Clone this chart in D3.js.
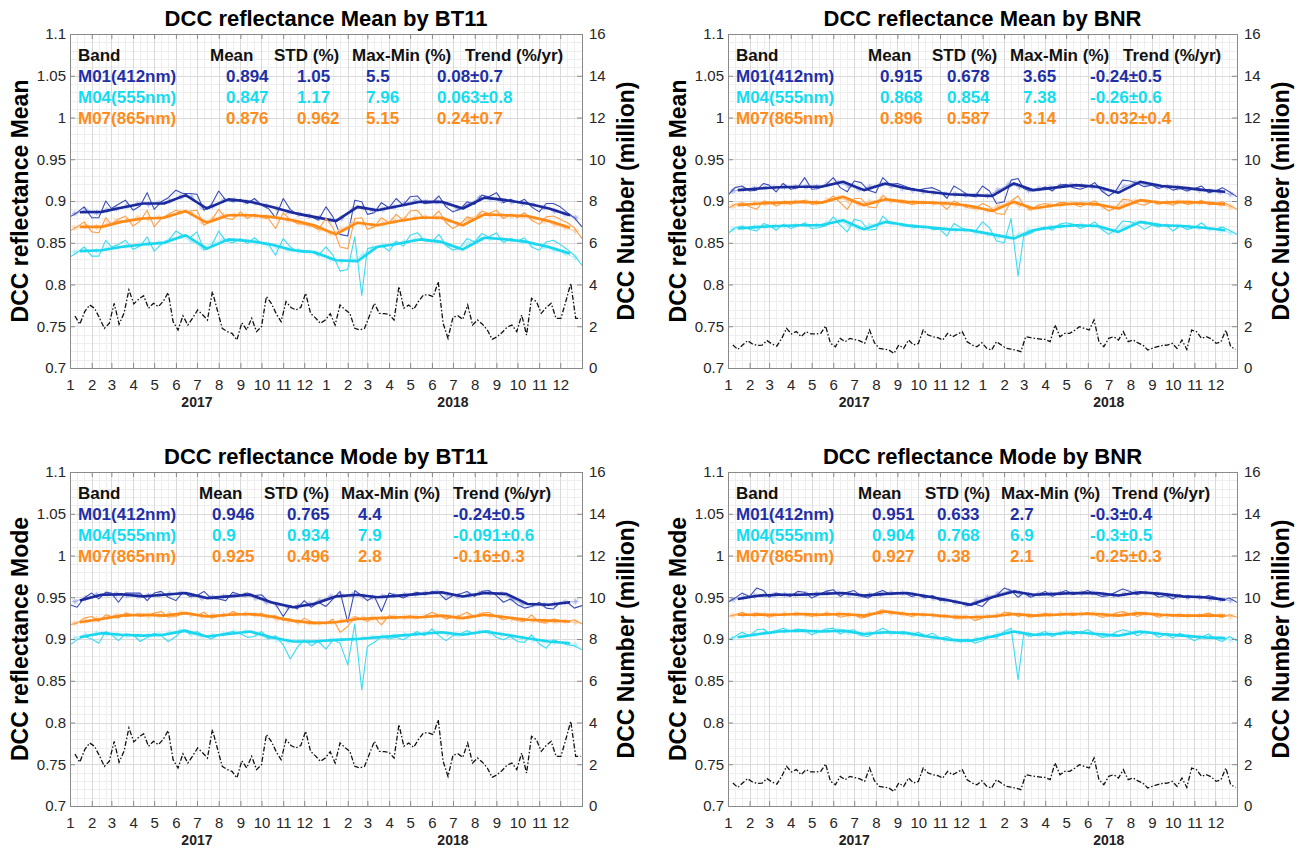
<!DOCTYPE html>
<html>
<head>
<meta charset="utf-8">
<script src="https://cdn.jsdelivr.net/npm/d3@7/dist/d3.min.js"></script>
<style>
  body { margin: 0; background: #fff; }
  svg { display: block; }
</style>
</head>
<body>
<svg id="chart" width="1299" height="848"></svg>
<script>
const monthLabels = ['1', '2', '3', '4', '5', '6', '7', '8', '9', '10', '11', '12'];
const years = [2017, 2018];
const bands = ['M01(412nm)', 'M04(555nm)', 'M07(865nm)'];
const tableHeader = ['Band', 'Mean', 'STD (%)', 'Max-Min (%)', 'Trend (%/yr)'];
const titles = ['DCC reflectance Mean by BT11', 'DCC reflectance Mean by BNR',
                'DCC reflectance Mode by BT11', 'DCC reflectance Mode by BNR'];
const leftLabels = ['DCC reflectance Mean', 'DCC reflectance Mean', 'DCC reflectance Mode', 'DCC reflectance Mode'];
const rightLabel = 'DCC Number (million)';
const yTicks = [0.7, 0.75, 0.8, 0.85, 0.9, 0.95, 1, 1.05, 1.1];
const y2Ticks = [0, 2, 4, 6, 8, 10, 12, 14, 16];

// table values, rows M01 / M04 / M07: mean, std, max-min, trend
const statsBt11Mean = [['0.894', '1.05', '5.5', '0.08±0.7'], ['0.847', '1.17', '7.96', '0.063±0.8'], ['0.876', '0.962', '5.15', '0.24±0.7']];
const statsBnrMean = [['0.915', '0.678', '3.65', '-0.24±0.5'], ['0.868', '0.854', '7.38', '-0.26±0.6'], ['0.896', '0.587', '3.14', '-0.032±0.4']];
const statsBt11Mode = [['0.946', '0.765', '4.4', '-0.24±0.5'], ['0.9', '0.934', '7.9', '-0.091±0.6'], ['0.925', '0.496', '2.8', '-0.16±0.3']];
const statsBnrMode = [['0.951', '0.633', '2.7', '-0.3±0.4'], ['0.904', '0.768', '6.9', '-0.3±0.5'], ['0.927', '0.38', '2.1', '-0.25±0.3']];

// raw series: 1st, 11th, 21st of each month, Jan 2017 .. Jan 2019
const bt11MeanM01Raw = [0.881,0.886,0.893,0.880,0.880,0.900,0.891,0.896,0.901,0.889,0.894,0.910,
  0.890,0.899,0.904,0.913,0.909,0.909,0.908,0.889,0.895,0.912,0.901,0.899,
  0.902,0.897,0.903,0.895,0.891,0.880,0.903,0.890,0.884,0.882,0.881,0.877,
  0.893,0.881,0.860,0.858,0.901,0.899,0.884,0.886,0.898,0.892,0.903,0.895,
  0.905,0.906,0.897,0.898,0.906,0.893,0.887,0.890,0.899,0.896,0.907,0.905,
  0.910,0.898,0.902,0.898,0.902,0.893,0.887,0.897,0.897,0.893,0.886,0.880,0.869];
const bt11MeanM04Raw = [0.833,0.838,0.845,0.834,0.834,0.853,0.845,0.848,0.853,0.842,0.846,0.857,
  0.840,0.848,0.852,0.864,0.859,0.856,0.863,0.841,0.845,0.864,0.852,0.850,
  0.855,0.849,0.856,0.849,0.848,0.835,0.855,0.845,0.840,0.838,0.839,0.835,
  0.845,0.835,0.816,0.818,0.857,0.787,0.843,0.845,0.847,0.840,0.852,0.846,
  0.859,0.862,0.853,0.851,0.860,0.847,0.841,0.844,0.855,0.851,0.861,0.857,
  0.862,0.850,0.855,0.852,0.856,0.845,0.841,0.851,0.853,0.848,0.842,0.835,0.823];
const bt11MeanM07Raw = [0.864,0.869,0.875,0.863,0.862,0.880,0.872,0.878,0.882,0.870,0.876,0.889,
  0.869,0.879,0.884,0.889,0.886,0.888,0.889,0.871,0.876,0.890,0.879,0.878,
  0.887,0.879,0.884,0.880,0.879,0.867,0.886,0.877,0.873,0.872,0.870,0.866,
  0.879,0.868,0.845,0.843,0.879,0.880,0.866,0.869,0.880,0.874,0.884,0.877,
  0.888,0.889,0.879,0.880,0.888,0.874,0.867,0.872,0.881,0.878,0.888,0.885,
  0.889,0.879,0.884,0.880,0.886,0.877,0.872,0.881,0.882,0.878,0.874,0.868,0.855];

const bnrMeanM01Raw = [0.907,0.916,0.918,0.912,0.913,0.921,0.919,0.911,0.921,0.914,0.916,0.928,
  0.914,0.915,0.919,0.928,0.916,0.911,0.924,0.922,0.913,0.910,0.928,0.920,
  0.921,0.918,0.915,0.913,0.915,0.916,0.912,0.903,0.918,0.913,0.907,0.905,
  0.918,0.912,0.897,0.899,0.925,0.927,0.915,0.912,0.913,0.917,0.912,0.919,
  0.920,0.916,0.914,0.917,0.922,0.912,0.906,0.912,0.925,0.924,0.921,0.917,
  0.919,0.915,0.918,0.913,0.915,0.912,0.915,0.918,0.910,0.912,0.916,0.911,0.905];
const bnrMeanM04Raw = [0.861,0.868,0.870,0.866,0.864,0.873,0.871,0.865,0.872,0.867,0.870,0.874,
  0.867,0.868,0.870,0.881,0.871,0.863,0.878,0.876,0.865,0.866,0.882,0.874,
  0.873,0.870,0.869,0.868,0.870,0.866,0.866,0.858,0.873,0.868,0.865,0.863,
  0.875,0.868,0.852,0.850,0.879,0.810,0.858,0.861,0.866,0.869,0.865,0.872,
  0.874,0.872,0.867,0.870,0.875,0.866,0.860,0.866,0.876,0.875,0.872,0.866,
  0.871,0.869,0.872,0.864,0.870,0.866,0.868,0.874,0.867,0.866,0.869,0.865,0.860];
const bnrMeanM07Raw = [0.891,0.896,0.898,0.893,0.890,0.900,0.899,0.894,0.898,0.896,0.899,0.901,
  0.896,0.897,0.899,0.906,0.898,0.890,0.903,0.903,0.893,0.892,0.907,0.900,
  0.899,0.898,0.896,0.897,0.898,0.899,0.897,0.890,0.900,0.896,0.892,0.891,
  0.897,0.893,0.885,0.884,0.900,0.906,0.895,0.889,0.895,0.897,0.894,0.898,
  0.898,0.896,0.893,0.897,0.900,0.894,0.888,0.892,0.902,0.901,0.897,0.895,
  0.899,0.896,0.898,0.895,0.899,0.896,0.897,0.901,0.896,0.896,0.899,0.895,0.890];

const bt11ModeM01Raw = [0.941,0.938,0.949,0.955,0.948,0.956,0.955,0.944,0.955,0.955,0.955,0.946,
  0.955,0.957,0.950,0.946,0.956,0.951,0.952,0.957,0.949,0.948,0.946,0.956,
  0.953,0.955,0.952,0.953,0.945,0.942,0.927,0.940,0.936,0.946,0.938,0.944,
  0.939,0.948,0.957,0.920,0.958,0.952,0.946,0.951,0.933,0.955,0.952,0.949,
  0.953,0.956,0.953,0.957,0.955,0.947,0.952,0.954,0.957,0.951,0.957,0.958,
  0.952,0.944,0.948,0.941,0.937,0.939,0.944,0.937,0.936,0.944,0.944,0.937,0.940];
const bt11ModeM04Raw = [0.893,0.899,0.903,0.900,0.895,0.909,0.905,0.898,0.906,0.905,0.897,0.902,
  0.907,0.904,0.897,0.903,0.911,0.906,0.909,0.904,0.900,0.905,0.907,0.909,
  0.906,0.902,0.903,0.909,0.900,0.904,0.893,0.876,0.890,0.899,0.892,0.897,
  0.888,0.899,0.895,0.869,0.918,0.839,0.891,0.896,0.903,0.900,0.902,0.899,
  0.904,0.909,0.904,0.912,0.904,0.898,0.904,0.906,0.910,0.906,0.909,0.910,
  0.902,0.899,0.903,0.897,0.896,0.905,0.894,0.889,0.899,0.896,0.893,0.892,0.887];
const bt11ModeM07Raw = [0.917,0.919,0.925,0.927,0.921,0.929,0.927,0.925,0.931,0.929,0.927,0.928,
  0.931,0.933,0.926,0.927,0.931,0.930,0.928,0.932,0.925,0.927,0.928,0.933,
  0.929,0.930,0.928,0.931,0.926,0.928,0.922,0.924,0.919,0.925,0.921,0.920,
  0.918,0.924,0.908,0.915,0.927,0.924,0.921,0.926,0.917,0.928,0.925,0.926,
  0.928,0.925,0.927,0.932,0.928,0.924,0.926,0.928,0.932,0.926,0.931,0.932,
  0.927,0.923,0.925,0.922,0.921,0.929,0.920,0.919,0.924,0.922,0.921,0.923,0.918];

const bnrModeM01Raw = [0.944,0.949,0.955,0.951,0.961,0.958,0.950,0.955,0.953,0.951,0.957,0.956,
  0.949,0.953,0.957,0.959,0.951,0.956,0.958,0.951,0.949,0.955,0.958,0.954,
  0.956,0.955,0.951,0.953,0.949,0.952,0.946,0.947,0.944,0.943,0.940,0.942,
  0.939,0.948,0.952,0.961,0.958,0.950,0.955,0.950,0.953,0.957,0.951,0.955,
  0.958,0.953,0.955,0.958,0.954,0.951,0.952,0.956,0.960,0.957,0.953,0.956,
  0.955,0.950,0.952,0.948,0.953,0.949,0.951,0.949,0.952,0.950,0.946,0.949,0.944];
const bnrModeM04Raw = [0.899,0.903,0.908,0.904,0.911,0.912,0.906,0.910,0.913,0.909,0.912,0.911,
  0.905,0.909,0.912,0.913,0.906,0.910,0.911,0.904,0.903,0.909,0.913,0.909,
  0.908,0.909,0.905,0.908,0.904,0.907,0.901,0.903,0.899,0.896,0.900,0.895,
  0.898,0.903,0.901,0.909,0.913,0.851,0.906,0.903,0.906,0.909,0.903,0.907,
  0.910,0.905,0.908,0.911,0.906,0.902,0.903,0.908,0.911,0.909,0.904,0.908,
  0.907,0.902,0.906,0.901,0.907,0.903,0.898,0.902,0.906,0.900,0.897,0.903,0.898];
const bnrModeM07Raw = [0.927,0.929,0.932,0.928,0.931,0.930,0.926,0.929,0.929,0.930,0.931,0.929,
  0.927,0.929,0.931,0.930,0.926,0.928,0.929,0.925,0.927,0.932,0.935,0.931,
  0.930,0.929,0.927,0.930,0.928,0.930,0.926,0.928,0.925,0.924,0.927,0.922,
  0.925,0.928,0.926,0.932,0.931,0.927,0.929,0.926,0.928,0.931,0.928,0.930,
  0.931,0.928,0.930,0.932,0.929,0.926,0.927,0.931,0.933,0.930,0.927,0.930,
  0.929,0.926,0.929,0.927,0.930,0.928,0.927,0.929,0.931,0.928,0.926,0.929,0.926];

// light smoothed line with star markers: 8th and 23rd of each month
const bt11MeanM01Mid = [0.885,0.889,0.886,0.889,0.891,0.894,0.897,0.896,0.898,0.900,0.905,0.905,0.893,0.894,0.901,0.901,0.899,0.898,0.894,0.891,0.887,0.884,0.882,0.880,
  0.877,0.879,0.890,0.892,0.889,0.890,0.893,0.897,0.900,0.899,0.899,0.896,0.891,0.896,0.904,0.903,0.900,0.899,0.897,0.895,0.892,0.888,0.884,0.880];
const bt11MeanM04Mid = [0.839,0.841,0.840,0.843,0.845,0.847,0.848,0.849,0.850,0.854,0.858,0.852,0.844,0.849,0.854,0.853,0.852,0.850,0.848,0.845,0.841,0.840,0.839,0.835,
  0.830,0.828,0.829,0.836,0.844,0.847,0.849,0.851,0.854,0.853,0.851,0.847,0.843,0.849,0.856,0.855,0.854,0.853,0.851,0.848,0.845,0.841,0.837,0.832];
const bt11MeanM07Mid = [0.868,0.870,0.869,0.872,0.876,0.877,0.880,0.879,0.880,0.883,0.887,0.885,0.875,0.878,0.883,0.883,0.883,0.882,0.881,0.880,0.877,0.874,0.871,0.866,
  0.861,0.866,0.873,0.873,0.871,0.873,0.876,0.878,0.880,0.881,0.880,0.876,0.872,0.878,0.884,0.883,0.883,0.882,0.882,0.879,0.876,0.872,0.868,0.864];
const bnrMeanM01Mid = [0.912,0.914,0.915,0.916,0.916,0.917,0.917,0.917,0.917,0.920,0.922,0.918,0.914,0.917,0.920,0.918,0.915,0.913,0.911,0.910,0.908,0.908,0.907,0.907,
  0.906,0.913,0.920,0.917,0.913,0.915,0.916,0.918,0.919,0.918,0.917,0.913,0.911,0.917,0.922,0.920,0.918,0.917,0.916,0.914,0.913,0.912,0.911,0.908];
const bnrMeanM04Mid = [0.866,0.868,0.869,0.869,0.870,0.870,0.871,0.871,0.871,0.874,0.876,0.871,0.867,0.871,0.874,0.873,0.871,0.869,0.868,0.867,0.866,0.865,0.865,0.862,
  0.860,0.857,0.856,0.860,0.865,0.867,0.869,0.870,0.871,0.871,0.870,0.866,0.864,0.869,0.874,0.873,0.871,0.870,0.870,0.869,0.868,0.866,0.865,0.862];
const bnrMeanM07Mid = [0.894,0.896,0.897,0.897,0.898,0.898,0.899,0.899,0.898,0.901,0.904,0.900,0.896,0.899,0.902,0.900,0.899,0.898,0.898,0.897,0.897,0.895,0.894,0.891,
  0.889,0.894,0.898,0.895,0.892,0.893,0.895,0.896,0.897,0.897,0.896,0.893,0.892,0.896,0.900,0.899,0.898,0.898,0.899,0.898,0.898,0.897,0.896,0.893];
const bt11ModeM01Mid = [0.945,0.949,0.953,0.954,0.954,0.952,0.951,0.952,0.953,0.954,0.955,0.952,0.949,0.950,0.951,0.952,0.953,0.949,0.944,0.941,0.938,0.940,0.942,0.946,
  0.951,0.952,0.953,0.951,0.950,0.951,0.952,0.953,0.954,0.955,0.956,0.953,0.951,0.953,0.955,0.955,0.954,0.948,0.942,0.941,0.941,0.942,0.944,0.945];
const bt11ModeM04Mid = [0.901,0.905,0.907,0.906,0.905,0.904,0.904,0.904,0.905,0.908,0.910,0.906,0.903,0.904,0.906,0.908,0.909,0.906,0.902,0.899,0.897,0.897,0.897,0.898,
  0.899,0.899,0.900,0.901,0.902,0.903,0.904,0.905,0.906,0.907,0.908,0.906,0.905,0.907,0.909,0.907,0.905,0.903,0.901,0.899,0.897,0.896,0.895,0.893];
const bt11ModeM07Mid = [0.919,0.922,0.924,0.926,0.928,0.929,0.929,0.928,0.928,0.930,0.931,0.929,0.927,0.928,0.929,0.930,0.930,0.929,0.927,0.924,0.922,0.920,0.919,0.919,
  0.920,0.922,0.924,0.925,0.925,0.925,0.926,0.926,0.926,0.927,0.928,0.926,0.925,0.927,0.929,0.927,0.926,0.924,0.923,0.922,0.922,0.921,0.921,0.920];
const bnrModeM01Mid = [0.947,0.950,0.952,0.953,0.953,0.953,0.953,0.954,0.954,0.955,0.955,0.953,0.952,0.953,0.954,0.955,0.955,0.953,0.951,0.949,0.946,0.944,0.941,0.945,
  0.950,0.954,0.957,0.955,0.953,0.954,0.954,0.955,0.955,0.955,0.955,0.953,0.952,0.954,0.956,0.955,0.954,0.952,0.951,0.950,0.950,0.948,0.947,0.946];
const bnrModeM04Mid = [0.901,0.904,0.906,0.908,0.909,0.910,0.910,0.909,0.909,0.910,0.910,0.908,0.906,0.907,0.908,0.907,0.907,0.905,0.903,0.901,0.899,0.898,0.898,0.900,
  0.903,0.906,0.909,0.907,0.905,0.905,0.906,0.907,0.908,0.907,0.906,0.905,0.904,0.906,0.909,0.907,0.906,0.905,0.904,0.903,0.902,0.901,0.901,0.899];
const bnrModeM07Mid = [0.928,0.929,0.929,0.929,0.929,0.930,0.930,0.929,0.929,0.930,0.930,0.929,0.928,0.930,0.932,0.931,0.930,0.929,0.929,0.928,0.927,0.926,0.926,0.926,
  0.927,0.929,0.930,0.929,0.928,0.929,0.929,0.930,0.930,0.930,0.930,0.929,0.928,0.930,0.931,0.930,0.929,0.928,0.928,0.928,0.928,0.928,0.928,0.927];

// thick smoothed line: 15th of each month
const bt11MeanM01Smooth = [0.8865,0.887,0.892,0.897,0.897,0.907,0.891,0.902,0.899,0.893,0.886,0.881,0.876,0.893,0.889,0.894,0.899,0.899,0.891,0.904,0.901,0.897,0.891,0.883];
const bt11MeanM04Smooth = [0.840,0.841,0.845,0.848,0.850,0.859,0.843,0.854,0.852,0.848,0.841,0.839,0.829,0.828,0.845,0.849,0.854,0.851,0.842,0.856,0.854,0.851,0.845,0.837];
const bt11MeanM07Smooth = [0.869,0.869,0.875,0.879,0.880,0.888,0.874,0.883,0.883,0.881,0.877,0.871,0.860,0.874,0.871,0.876,0.880,0.880,0.871,0.884,0.883,0.882,0.876,0.868];
const bnrMeanM01Smooth = [0.913,0.915,0.9165,0.917,0.917,0.923,0.913,0.921,0.915,0.911,0.908,0.907,0.906,0.921,0.913,0.916,0.919,0.917,0.910,0.923,0.918,0.916,0.913,0.911];
const bnrMeanM04Smooth = [0.867,0.869,0.870,0.871,0.871,0.877,0.866,0.875,0.871,0.8685,0.866,0.865,0.860,0.855,0.865,0.869,0.871,0.870,0.863,0.875,0.871,0.870,0.868,0.865];
const bnrMeanM07Smooth = [0.895,0.897,0.898,0.899,0.898,0.905,0.895,0.902,0.899,0.898,0.897,0.894,0.888,0.899,0.891,0.895,0.897,0.896,0.891,0.901,0.898,0.899,0.898,0.896];
const bt11ModeM01Smooth = [0.946,0.953,0.9535,0.951,0.953,0.955,0.949,0.951,0.953,0.944,0.938,0.942,0.951,0.953,0.950,0.952,0.954,0.956,0.951,0.955,0.954,0.942,0.941,0.944];
const bt11ModeM04Smooth = [0.902,0.907,0.905,0.904,0.905,0.910,0.903,0.906,0.909,0.902,0.897,0.897,0.899,0.900,0.902,0.904,0.906,0.908,0.905,0.909,0.905,0.901,0.897,0.895];
const bt11ModeM07Smooth = [0.920,0.924,0.928,0.929,0.928,0.931,0.927,0.929,0.930,0.927,0.922,0.919,0.920,0.924,0.925,0.926,0.926,0.928,0.925,0.929,0.926,0.923,0.922,0.921];
const bnrModeM01Smooth = [0.948,0.952,0.953,0.953,0.954,0.955,0.952,0.954,0.955,0.951,0.946,0.941,0.950,0.957,0.953,0.954,0.955,0.955,0.952,0.956,0.954,0.951,0.950,0.947];
const bnrModeM04Smooth = [0.902,0.906,0.909,0.910,0.909,0.910,0.906,0.908,0.907,0.903,0.899,0.898,0.903,0.909,0.905,0.906,0.908,0.906,0.904,0.909,0.906,0.904,0.902,0.901];
const bnrModeM07Smooth = [0.929,0.929,0.929,0.930,0.929,0.930,0.928,0.933,0.930,0.929,0.927,0.926,0.927,0.930,0.928,0.929,0.930,0.930,0.928,0.931,0.929,0.928,0.928,0.928];

// weekly DCC counts (million), from 8 Jan 2017
const dccBt11 = [2.49,2.10,2.70,3.02,2.86,2.40,1.90,2.14,3.10,2.10,2.62,3.74,
  3.07,3.30,3.46,2.86,3.10,2.94,3.20,3.61,2.22,1.82,2.50,2.06,
  2.40,2.78,2.55,2.30,3.66,2.78,1.90,1.75,1.66,1.34,2.17,1.82,
  2.38,1.74,1.98,3.42,3.10,2.60,2.22,3.18,2.90,2.78,2.90,3.58,
  2.62,2.40,2.14,2.30,2.60,2.06,3.02,2.80,2.62,1.90,1.82,1.90,
  2.50,3.10,2.62,2.60,2.57,2.30,3.90,2.86,3.02,2.81,3.20,3.50,
  3.50,3.42,4.13,2.14,1.42,2.43,2.50,2.33,3.02,2.06,2.30,2.10,
  1.82,1.37,1.50,1.70,1.95,2.06,1.74,2.54,1.58,3.34,3.18,2.62,
  2.90,3.10,2.38,2.38,3.20,4.06,2.38,2.38];
const dccBnr = [1.10,0.89,1.10,1.31,1.15,1.08,1.10,1.31,1.15,1.05,1.42,1.90,
  1.63,1.75,1.50,1.74,1.63,1.63,1.66,2.01,1.18,1.02,1.42,1.26,
  1.42,1.36,1.30,1.18,1.82,1.21,0.94,0.90,0.86,0.70,1.10,0.94,
  1.34,1.10,1.18,1.82,1.58,1.50,1.45,1.34,1.66,1.50,1.62,1.74,
  1.26,1.10,1.02,1.21,0.95,0.86,1.26,1.10,0.94,0.90,0.86,0.78,
  1.50,1.45,1.42,1.38,1.37,1.26,2.06,1.50,1.66,1.66,1.80,1.98,
  1.90,1.82,2.30,1.26,1.02,1.42,1.50,1.34,1.74,1.26,1.34,1.20,
  1.10,0.86,0.95,1.02,1.08,1.10,1.18,0.94,1.34,0.89,1.82,1.74,
  1.42,1.50,1.40,1.18,1.26,1.82,1.02,0.89];

// sample dates for each kind of series
const rawDates = d3.range(73).map(i => new Date(2017, Math.floor(i / 3), 1 + 10 * (i % 3)));
const midDates = d3.range(48).map(i => new Date(2017, Math.floor(i / 2), i % 2 ? 23 : 8));
const smoothDates = d3.range(24).map(k => new Date(2017, k, 15));
const dccDates = d3.range(104).map(i => new Date(2017, 0, 8 + 7 * i));
const monthTicks = d3.range(24).map(k => new Date(2017, k, 1));
const minorDays = d3.range(24).flatMap(k => [new Date(2017, k, 11), new Date(2017, k, 21)]);
const minorY = d3.range(70, 111).filter(v => v % 5).map(v => v / 100);
const xDomain = [new Date(2017, 0, 1), new Date(2019, 0, 1)];

const font = '"Liberation Sans", Arial, Helvetica, sans-serif';
const bandStyle = [
  {thick: '#1b2a9c', raw: '#3b4db8', mid: '#a5b0ea', text: '#1f2fa6'},
  {thick: '#1ad6ee', raw: '#3adcf3', mid: '#a8eef9', text: '#12dcef'},
  {thick: '#ff8a17', raw: '#ff9e45', mid: '#ffc994', text: '#ff8c1a'}
];

const panels = [
  {title: titles[0], yLabel: leftLabels[0], stats: statsBt11Mean, dcc: dccBt11,
   raw: [bt11MeanM01Raw, bt11MeanM04Raw, bt11MeanM07Raw],
   mid: [bt11MeanM01Mid, bt11MeanM04Mid, bt11MeanM07Mid],
   smooth: [bt11MeanM01Smooth, bt11MeanM04Smooth, bt11MeanM07Smooth],
   box: {x0: 70, x1: 582, y0: 34, y1: 368},
   cols: {band: 78, head: [210, 274, 352, 465], val: [226, 297, 366, 437]}},
  {title: titles[1], yLabel: leftLabels[1], stats: statsBnrMean, dcc: dccBnr,
   raw: [bnrMeanM01Raw, bnrMeanM04Raw, bnrMeanM07Raw],
   mid: [bnrMeanM01Mid, bnrMeanM04Mid, bnrMeanM07Mid],
   smooth: [bnrMeanM01Smooth, bnrMeanM04Smooth, bnrMeanM07Smooth],
   box: {x0: 728, x1: 1237, y0: 34, y1: 368},
   cols: {band: 736, head: [868, 932, 1010, 1123], val: [880, 947, 1023, 1090]}},
  {title: titles[2], yLabel: leftLabels[2], stats: statsBt11Mode, dcc: dccBt11,
   raw: [bt11ModeM01Raw, bt11ModeM04Raw, bt11ModeM07Raw],
   mid: [bt11ModeM01Mid, bt11ModeM04Mid, bt11ModeM07Mid],
   smooth: [bt11ModeM01Smooth, bt11ModeM04Smooth, bt11ModeM07Smooth],
   box: {x0: 70, x1: 582, y0: 472, y1: 806},
   cols: {band: 78, head: [199, 264, 341, 453], val: [212, 287, 358, 453]}},
  {title: titles[3], yLabel: leftLabels[3], stats: statsBnrMode, dcc: dccBnr,
   raw: [bnrModeM01Raw, bnrModeM04Raw, bnrModeM07Raw],
   mid: [bnrModeM01Mid, bnrModeM04Mid, bnrModeM07Mid],
   smooth: [bnrModeM01Smooth, bnrModeM04Smooth, bnrModeM07Smooth],
   box: {x0: 728, x1: 1237, y0: 472, y1: 806},
   cols: {band: 736, head: [858, 925, 1001, 1112], val: [872, 937, 1010, 1090]}}
];

const svg = d3.select('#chart');
const defs = svg.append('defs');
const crisp = v => Math.round(v) + 0.5;

// pair values with their dates
function pts(dates, values) {
  return values.map((v, i) => [dates[i], v]).filter(d => d[0] !== undefined);
}

function star(cx, cy, r) {
  const q = r * 0.7;
  return `M${cx - r},${cy}H${cx + r}M${cx},${cy - r}V${cy + r}` +
    `M${cx - q},${cy - q}L${cx + q},${cy + q}M${cx - q},${cy + q}L${cx + q},${cy - q}`;
}

function drawPanel(p, idx) {
  const b = p.box;
  const x = d3.scaleTime().domain(xDomain).range([b.x0, b.x1]);
  const y = d3.scaleLinear().domain([0.7, 1.1]).range([b.y1, b.y0]);
  const y2 = d3.scaleLinear().domain([0, 16]).range([b.y1, b.y0]);
  const g = svg.append('g');

  // grid: minor first, then major
  const grid = g.append('g').attr('shape-rendering', 'crispEdges');
  grid.selectAll('line.mx').data(minorDays).join('line').attr('class', 'mx')
    .attr('x1', d => crisp(x(d))).attr('x2', d => crisp(x(d)))
    .attr('y1', b.y0).attr('y2', b.y1).attr('stroke', '#eeeeee');
  grid.selectAll('line.my').data(minorY).join('line').attr('class', 'my')
    .attr('y1', d => crisp(y(d))).attr('y2', d => crisp(y(d)))
    .attr('x1', b.x0).attr('x2', b.x1).attr('stroke', '#eeeeee');
  grid.selectAll('line.gx').data(monthTicks.slice(1)).join('line').attr('class', 'gx')
    .attr('x1', d => crisp(x(d))).attr('x2', d => crisp(x(d)))
    .attr('y1', b.y0).attr('y2', b.y1).attr('stroke', '#dadada');
  grid.selectAll('line.gy').data(yTicks.slice(1, -1)).join('line').attr('class', 'gy')
    .attr('y1', d => crisp(y(d))).attr('y2', d => crisp(y(d)))
    .attr('x1', b.x0).attr('x2', b.x1).attr('stroke', '#dadada');

  defs.append('clipPath').attr('id', 'clip' + idx)
    .append('rect').attr('x', b.x0).attr('y', b.y0)
    .attr('width', b.x1 - b.x0).attr('height', b.y1 - b.y0);
  const plot = g.append('g').attr('clip-path', `url(#clip${idx})`);

  const line = d3.line().x(d => x(d[0])).y(d => y(d[1]));
  bands.forEach((name, j) => {
    const st = bandStyle[j];
    const midPts = pts(midDates, p.mid[j]);
    plot.append('path').attr('d', line(midPts))
      .attr('fill', 'none').attr('stroke', st.mid).attr('stroke-width', 1);
    plot.append('path')
      .attr('d', midPts.map(d => star(x(d[0]), y(d[1]), 3)).join(''))
      .attr('fill', 'none').attr('stroke', st.mid).attr('stroke-width', 0.9);
    plot.append('path').attr('d', line(pts(rawDates, p.raw[j])))
      .attr('fill', 'none').attr('stroke', st.raw).attr('stroke-width', 1.1)
      .attr('stroke-linejoin', 'round');
    plot.append('path').attr('d', line(pts(smoothDates, p.smooth[j])))
      .attr('fill', 'none').attr('stroke', st.thick).attr('stroke-width', 2.6)
      .attr('stroke-linejoin', 'round');
  });

  const dccLine = d3.line().x(d => x(d[0])).y(d => y2(d[1]));
  plot.append('path').attr('d', dccLine(pts(dccDates, p.dcc)))
    .attr('fill', 'none').attr('stroke', '#111').attr('stroke-width', 1.3)
    .attr('stroke-dasharray', '5,2,1.5,2');

  // axes, ticks pointing inward
  const styleAxis = sel => {
    sel.select('.domain').remove();
    sel.selectAll('.tick line').attr('stroke', '#8a8a8a');
    sel.selectAll('.tick text').attr('fill', '#262626')
      .style('font-family', font).style('font-size', '15px');
  };
  g.append('g').attr('transform', `translate(0,${b.y1})`)
    .call(d3.axisBottom(x).tickValues(monthTicks).tickSize(-5).tickPadding(11)
      .tickFormat(d => monthLabels[d.getMonth()]))
    .call(styleAxis);
  g.append('g').attr('transform', `translate(0,${b.y0})`)
    .call(d3.axisTop(x).tickValues(monthTicks).tickSize(-5).tickFormat(''))
    .call(styleAxis);
  g.append('g').attr('transform', `translate(${b.x0},0)`)
    .call(d3.axisLeft(y).tickValues(yTicks).tickSize(-5).tickPadding(4).tickFormat(d3.format('~g')))
    .call(styleAxis);
  g.append('g').attr('transform', `translate(${b.x1},0)`)
    .call(d3.axisRight(y2).tickValues(y2Ticks).tickSize(-5).tickPadding(7))
    .call(styleAxis);

  g.append('rect').attr('x', b.x0 + 0.5).attr('y', b.y0 + 0.5)
    .attr('width', b.x1 - b.x0).attr('height', b.y1 - b.y0)
    .attr('fill', 'none').attr('stroke', '#8a8a8a').attr('shape-rendering', 'crispEdges');

  // year labels under the month ticks
  g.selectAll('text.year').data(years).join('text').attr('class', 'year')
    .attr('x', d => x(new Date(d, 6, 1))).attr('y', b.y1 + 39)
    .attr('text-anchor', 'middle').style('font-family', font)
    .style('font-size', '14px').style('font-weight', 'bold').attr('fill', '#222')
    .text(d => d);

  // title and axis labels
  g.append('text').attr('x', (b.x0 + b.x1) / 2).attr('y', b.y0 - 8)
    .attr('text-anchor', 'middle').style('font-family', font)
    .style('font-size', '22px').style('font-weight', 'bold').attr('fill', '#000')
    .text(p.title);
  const cy = (b.y0 + b.y1) / 2;
  g.append('text').attr('transform', `translate(${b.x0 - 50},${cy}) rotate(-90)`)
    .attr('text-anchor', 'middle').attr('dominant-baseline', 'central')
    .style('font-family', font).style('font-size', '23px').style('font-weight', 'bold')
    .text(p.yLabel);
  g.append('text').attr('transform', `translate(${b.x1 + 44},${cy}) rotate(-90)`)
    .attr('text-anchor', 'middle').attr('dominant-baseline', 'central')
    .style('font-family', font).style('font-size', '23px').style('font-weight', 'bold')
    .text(rightLabel);

  // statistics table
  const tbl = g.append('g').style('font-family', font).style('font-size', '17px')
    .style('font-weight', 'bold');
  const rowY = [b.y0 + 27, b.y0 + 48, b.y0 + 69, b.y0 + 90];
  tbl.append('text').attr('x', p.cols.band).attr('y', rowY[0]).attr('fill', '#111').text(tableHeader[0]);
  tableHeader.slice(1).forEach((h, c) => {
    tbl.append('text').attr('x', p.cols.head[c]).attr('y', rowY[0]).attr('fill', '#111').text(h);
  });
  bands.forEach((name, j) => {
    const col = bandStyle[j].text;
    tbl.append('text').attr('x', p.cols.band).attr('y', rowY[j + 1]).attr('fill', col).text(name);
    p.stats[j].forEach((v, c) => {
      tbl.append('text').attr('x', p.cols.val[c]).attr('y', rowY[j + 1]).attr('fill', col).text(v);
    });
  });
}

panels.forEach(drawPanel);
</script>
</body>
</html>
